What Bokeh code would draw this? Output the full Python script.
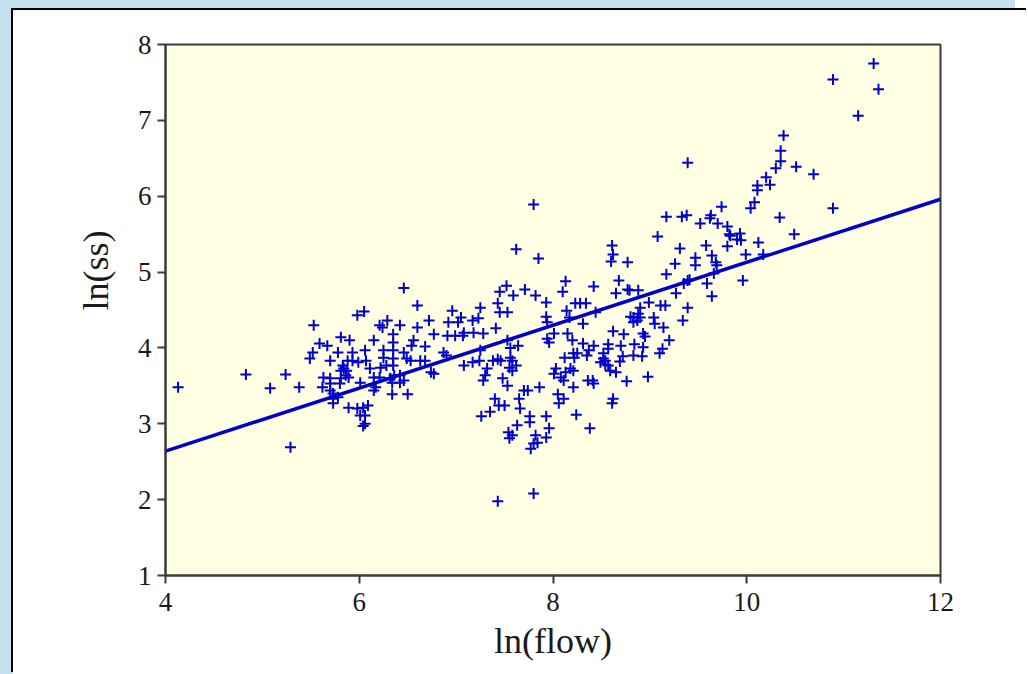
import numpy as np
from bokeh.plotting import figure
from bokeh.models import FixedTicker, Title, GlobalInlineStyleSheet, Range1d
from bokeh.embed import file_html
from bokeh.resources import INLINE

# ---- data ----
ln_flow = [
    4.13, 4.83, 5.08, 5.24, 5.38, 5.29, 5.53,
    5.52, 5.49, 5.59, 5.67, 5.63, 5.62, 5.70, 5.73, 5.73, 5.73,
    5.78, 5.70, 5.81, 5.90, 5.98, 6.05, 5.83, 5.84, 5.86, 5.93,
    5.93, 5.89, 5.98, 6.04, 6.09, 6.01, 6.06, 6.04, 6.46, 6.60,
    6.72, 6.60, 6.42, 6.21, 6.24, 6.29, 6.35, 6.35, 6.35, 6.35,
    6.35, 6.15, 6.56, 6.54, 6.68, 6.77, 6.25, 6.28, 6.06, 6.07,
    6.11, 6.22, 6.15, 6.21, 6.32, 6.34, 6.42, 6.17, 6.15, 6.34,
    6.50, 6.46, 6.49, 6.63, 6.68, 6.74, 6.77, 6.87, 6.90, 6.91,
    6.99, 7.07, 6.96, 7.05, 7.02, 7.17, 7.23, 7.18, 7.08, 7.17,
    7.26, 5.99, 6.25, 6.46, 6.53, 5.88, 5.81, 5.87, 5.89, 5.70,
    5.70, 5.81, 5.80, 6.01, 6.36, 6.42, 5.78, 6.06,
    7.52, 7.45, 7.43, 7.45, 7.59, 7.71, 7.82, 7.93, 7.53, 7.25,
    6.92, 7.41, 7.08, 7.28, 7.25, 7.24, 7.38, 7.43, 7.46, 7.56,
    7.56, 7.58, 7.55, 7.58, 7.62, 7.64, 7.53, 7.32, 7.30, 7.28,
    7.48, 7.53, 7.93, 7.94, 8.14, 8.17, 8.23, 8.28, 8.34, 8.10,
    8.42, 8.31, 8.44, 8.01, 7.94, 7.96, 8.15, 8.20, 8.12, 8.21,
    8.22, 8.25, 8.31, 8.37, 8.35, 8.42, 8.52, 8.54, 8.03, 8.01,
    8.08, 8.11, 8.13, 8.18, 8.21, 8.36, 8.41, 8.21, 7.70, 7.74,
    7.86, 7.40, 7.44, 7.50, 7.65, 7.66, 8.05, 8.06, 8.11, 7.35,
    7.76, 7.76, 7.93, 8.24, 7.63, 7.54, 7.58, 7.96, 7.93, 7.82,
    7.84, 7.77, 8.38, 7.80, 7.55, 7.43, 7.80, 7.80, 7.62, 7.85,
    8.13, 8.61, 8.62, 8.60, 8.68,
    9.08, 8.77, 9.31, 9.58, 9.80, 9.83, 9.93, 9.94, 9.90, 10.12,
    9.99, 10.17, 9.47, 9.47, 9.26, 9.64, 9.68, 9.69, 9.66, 9.17,
    9.39, 9.35, 9.59, 9.64, 9.96, 8.65, 8.77, 8.79, 8.88, 9.27,
    8.99, 9.11, 9.16, 9.39, 8.90, 8.88, 8.90, 8.80, 8.83, 8.87,
    8.83, 9.04, 9.05, 9.14, 9.34, 8.62, 8.73, 8.93, 8.95, 9.20,
    8.57, 8.57, 8.70, 8.84, 8.93, 9.13, 8.52, 8.49, 8.54, 8.57,
    8.72, 8.69, 8.83, 8.92, 9.10, 8.59, 8.65, 8.76, 8.98, 8.42,
    8.62, 8.61, 9.41,
    11.31, 10.89, 11.36, 11.15, 10.38, 10.35, 10.35, 10.30, 10.51, 10.20,
    10.24, 10.11, 10.11, 10.69, 9.39, 10.08, 10.04, 9.74, 10.89, 9.17,
    9.33, 9.38, 9.63, 9.52, 9.62, 9.70, 9.80, 10.34, 9.82, 10.49,
]
ln_ss = [
    3.48, 3.65, 3.47, 3.65, 3.48, 2.69, 4.30,
    3.94, 3.86, 4.06, 4.03, 3.61, 3.48, 3.53, 3.40, 3.27, 3.33,
    3.94, 3.83, 4.14, 4.10, 4.43, 4.48, 3.77, 3.73, 3.64, 3.94,
    3.83, 3.21, 3.20, 3.21, 3.24, 3.11, 3.00, 2.97, 4.79, 4.56,
    4.36, 4.27, 4.30, 4.30, 4.27, 4.36, 4.18, 4.07, 3.97, 3.86,
    3.77, 4.10, 4.10, 4.03, 4.02, 4.18, 3.87, 3.77, 3.97, 3.83,
    3.73, 3.74, 3.61, 3.61, 3.60, 3.54, 3.54, 3.48, 3.44, 3.39,
    3.39, 3.57, 3.86, 3.83, 3.83, 3.68, 3.66, 3.94, 3.90, 4.16,
    4.16, 4.16, 4.49, 4.40, 4.34, 4.36, 4.39, 4.20, 3.77, 3.81,
    3.10, 3.81, 3.97, 3.94, 3.83, 3.83, 3.70, 3.70, 3.61, 3.60,
    3.44, 3.60, 3.53, 3.54, 3.64, 3.64, 3.35, 3.11,
    4.82, 4.74, 4.59, 4.47, 4.69, 4.77, 4.69, 4.60, 4.47, 4.53,
    4.34, 4.26, 4.20, 4.19, 3.97, 3.83, 3.83, 3.85, 3.83, 4.00,
    3.87, 3.83, 3.74, 3.70, 3.77, 4.03, 4.10, 3.73, 3.64, 3.57,
    3.60, 3.50, 4.41, 4.34, 4.49, 4.40, 4.59, 4.59, 4.59, 4.74,
    4.81, 4.32, 4.47, 4.19, 4.12, 4.07, 4.19, 4.10, 3.87, 3.93,
    3.87, 3.93, 4.06, 3.97, 3.90, 4.03, 3.93, 3.83, 3.73, 3.66,
    3.61, 3.57, 3.68, 3.73, 3.70, 3.57, 3.57, 3.48, 3.44, 3.44,
    3.48, 3.33, 3.24, 3.24, 3.33, 3.20, 3.39, 3.27, 3.33, 3.16,
    3.10, 3.02, 3.10, 3.12, 2.98, 2.89, 2.85, 2.94, 2.82, 2.85,
    2.75, 2.67, 2.94, 2.74, 2.81, 1.98, 2.08, 5.89, 5.30, 5.18,
    4.88, 5.35, 5.23, 5.14, 4.89,
    5.47, 5.13, 5.31, 5.35, 5.34, 5.48, 5.51, 5.42, 5.43, 5.39,
    5.23, 5.23, 5.19, 5.09, 5.11, 5.22, 5.13, 5.09, 4.98, 4.97,
    4.89, 4.85, 4.85, 4.68, 4.89, 4.72, 4.77, 4.76, 4.76, 4.72,
    4.60, 4.56, 4.56, 4.53, 4.53, 4.45, 4.40, 4.41, 4.40, 4.36,
    4.34, 4.40, 4.32, 4.27, 4.36, 4.22, 4.18, 4.19, 4.15, 4.10,
    4.05, 3.99, 4.03, 4.05, 4.01, 3.99, 3.86, 3.81, 3.78, 3.77,
    3.89, 3.82, 3.90, 3.89, 3.93, 3.70, 3.68, 3.56, 3.62, 3.53,
    3.33, 3.27, 4.90,
    7.75, 7.54, 7.41, 7.06, 6.80, 6.60, 6.46, 6.37, 6.39, 6.25,
    6.15, 6.14, 6.08, 6.29, 6.44, 5.92, 5.84, 5.86, 5.84, 5.73,
    5.73, 5.75, 5.75, 5.64, 5.71, 5.64, 5.60, 5.72, 5.50, 5.50,
]
assert len(ln_flow) == len(ln_ss)

fit_x = [4.0, 12.0]
fit_y = [2.64, 5.96]

x_ticks = [4, 6, 8, 10, 12]
y_ticks = [1, 2, 3, 4, 5, 6, 7, 8]

x_title = "ln(flow)"
y_title = "ln(ss)"

# ---- styling ----
serif = "Liberation Serif"
blue = "#0000cc"
axis_col = "#3a3a3a"

p = figure(
    width=1015, height=664,
    x_range=Range1d(4, 12), y_range=Range1d(1, 8),
    output_backend="svg", toolbar_location=None,
    min_border_left=152, min_border_right=88,
    min_border_top=34, min_border_bottom=99,
)
p.background_fill_color = "#ffffe3"
p.border_fill_color = "white"
p.outline_line_color = axis_col
p.outline_line_width = 2
p.grid.visible = False

for ax in (p.xaxis[0], p.yaxis[0]):
    ax.axis_line_color = axis_col
    ax.axis_line_width = 2
    ax.major_tick_line_color = axis_col
    ax.major_tick_line_width = 2
    ax.major_tick_in = 0
    ax.major_tick_out = 8
    ax.minor_tick_line_color = None
    ax.major_label_text_font = serif
    ax.major_label_text_font_size = "27px"
    ax.major_label_text_color = "#1a1a1a"

p.xaxis.ticker = FixedTicker(ticks=x_ticks)
p.yaxis.ticker = FixedTicker(ticks=y_ticks)
p.xaxis.major_label_standoff = 9
p.yaxis.major_label_standoff = 6

p.xaxis.axis_label = x_title
p.xaxis.axis_label_text_font = serif
p.xaxis.axis_label_text_font_size = "36px"
p.xaxis.axis_label_text_font_style = "normal"
p.xaxis.axis_label_text_color = "#1a1a1a"
p.xaxis.axis_label_standoff = 7

p.add_layout(Title(
    text=y_title, align="left", offset=265, standoff=38,
    text_font=serif, text_font_size="36px", text_font_style="normal",
    text_color="#1a1a1a",
), "left")

p.scatter(ln_flow, ln_ss, marker="cross", size=11,
          line_color=blue, line_width=2)
p.line(fit_x, fit_y, line_color=blue, line_width=3.5)

p.stylesheets = [GlobalInlineStyleSheet(
    css="html, body { margin: 0 !important; padding: 0; background-color: #ffffff; overflow: hidden; }"
)]
p.styles = {
    "margin-top": "10px", "margin-left": "13px",
    "box-shadow": ("-2px -2px 0 0 #000000, -13px -10px 0 0 #c5e1ee, "
                   "-13px 20px 0 0 #c5e1ee, 40px 40px 0 0 #ffffff, "
                   "40px 0 0 0 #ffffff, 0 40px 0 0 #ffffff"),
}

open("out.html", "w").write(file_html(p, INLINE))
